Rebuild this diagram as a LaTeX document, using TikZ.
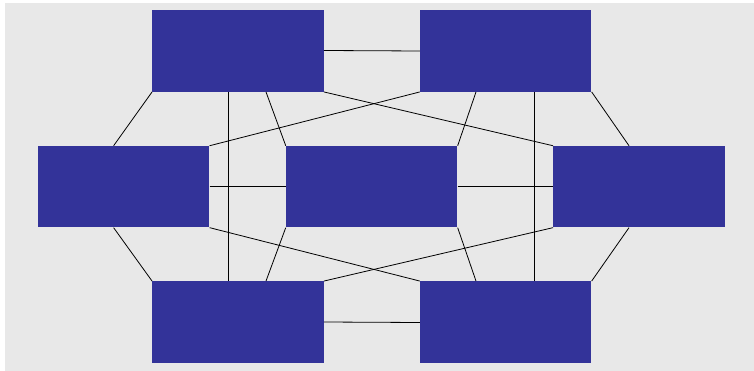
\documentclass[tikz,border=0pt]{standalone}
\usetikzlibrary{calc}
\definecolor{bgc}{RGB}{232,232,232}
\definecolor{boxc}{RGB}{51,51,153}
\begin{document}
\begin{tikzpicture}[x=1pt,y=-1pt,
  blk/.style={fill=boxc,draw=none,inner sep=0pt,minimum width=171.5pt,minimum height=81.5pt},
  link/.style={draw=black,line width=0.8pt}]
\useasboundingbox (0,0) rectangle (754,371);
\fill[bgc] (5,3) rectangle (754,371);
\node[blk] (TL) at (238,51) {};
\node[blk] (TR) at (505.7,51) {};
\node[blk] (ML) at (123.6,186.7) {};
\node[blk] (MC) at (371.7,186.7) {};
\node[blk] (MR) at (639,186.7) {};
\node[blk] (BL) at (238,322) {};
\node[blk] (BR) at (505.7,322) {};
% outer ring
\draw[link] ($(TL.east)+(0,-0.5)$) -- ($(TR.west)+(0,0)$);
\draw[link] (TL.south west) -- ($(ML.north)+(-10,0)$);
\draw[link] (TR.south east) -- ($(MR.north)+(-10,0)$);
\draw[link] ($(ML.south)+(-10,0)$) -- (BL.north west);
\draw[link] ($(MR.south)+(-10,0)$) -- (BR.north east);
\draw[link] ($(BL.east)+(0,0)$) -- ($(BR.west)+(0,0.5)$);
% verticals
\draw[link] ($(TL.south)+(-9.3,0)$) -- ($(BL.north)+(-9.3,0)$);
\draw[link] ($(TR.south)+(28.6,0)$) -- ($(BR.north)+(28.6,0)$);
% middle horizontals
\draw[link] (ML.east) -- (MC.west);
\draw[link] (MC.east) -- (MR.west);
% to center
\draw[link] ($(TL.south)+(28,0)$) -- (MC.north west);
\draw[link] ($(TR.south)+(-29.7,0)$) -- (MC.north east);
\draw[link] ($(BL.north)+(28,0)$) -- (MC.south west);
\draw[link] ($(BR.north)+(-29.7,0)$) -- (MC.south east);
% crossings
\draw[link] (ML.north east) -- (TR.south west);
\draw[link] (TL.south east) -- (MR.north west);
\draw[link] (ML.south east) -- (BR.north west);
\draw[link] (MR.south west) -- (BL.north east);
\end{tikzpicture}
\end{document}
